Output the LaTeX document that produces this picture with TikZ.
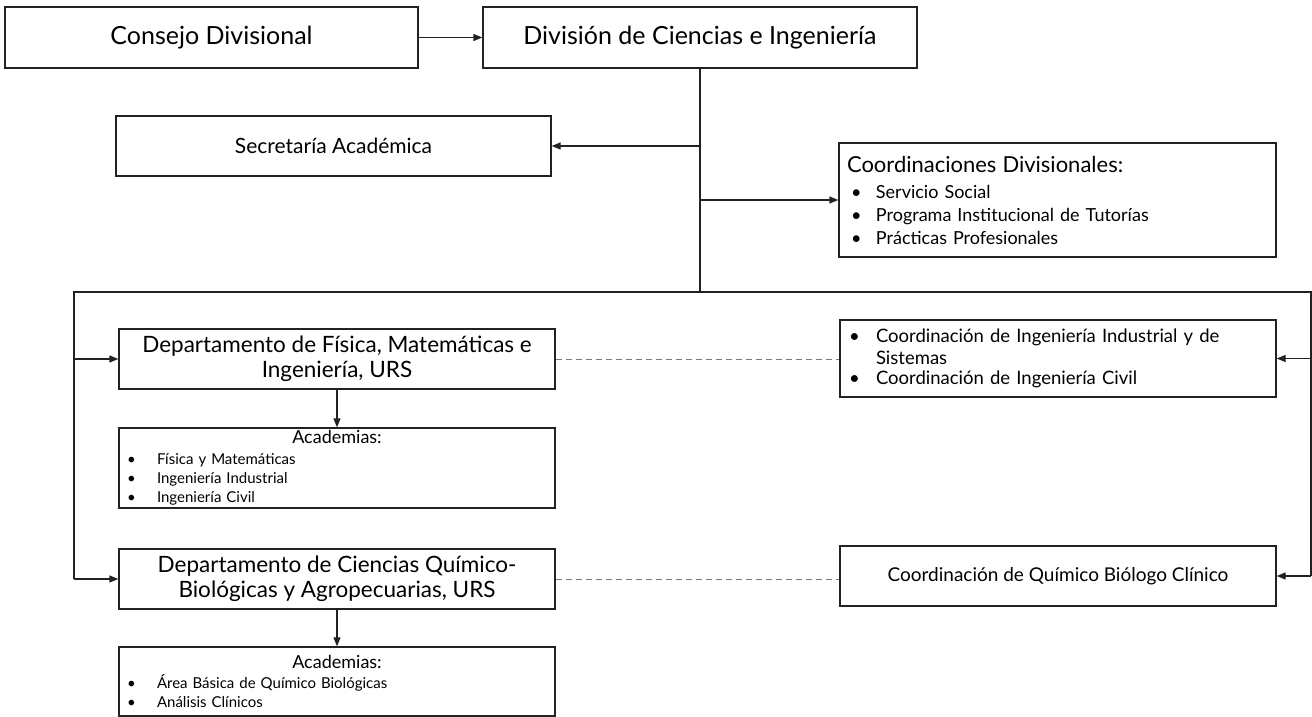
\documentclass[tikz,border=0pt]{standalone}
\usepackage{fontspec}
\setmainfont{Lato}
\usetikzlibrary{arrows.meta}

\definecolor{ink}{HTML}{222222}
\definecolor{tiegray}{HTML}{7A7A7A}

% bullet line: bullet at offset #1, text at offset #2 from the box edge
\newcommand\bli[3]{\hspace*{#1}\makebox[\dimexpr#2-#1\relax][l]{\textbullet}#3}
\newcommand\fs[2]{\fontsize{#1}{#2}\selectfont}

\begin{document}
\begin{tikzpicture}[x=1pt,y=-1pt,
  box/.style={draw=ink, line width=1.3pt, rectangle, inner sep=0pt,
    text=black, align=center},
  listbox/.style={box, align=left, text width=#1},
  link/.style={draw=ink, line width=1.3pt},
  arr/.style={link, -{Triangle[length=9pt,width=7pt]}},
  tie/.style={draw=tiegray, line width=1pt, dash pattern=on 6pt off 4pt}
]
\useasboundingbox (0,0) rectangle (1312,717);

% top row
\node[box, minimum width=413pt, minimum height=61pt, font=\fs{25}{30}]
  (consejo) at (211.5,37.5) {Consejo Divisional};
\node[box, minimum width=434pt, minimum height=61pt, font=\fs{25}{30}]
  (division) at (700,37.5) {División de Ciencias e Ingeniería};

% second level
\node[box, minimum width=435pt, minimum height=60pt, font=\fs{21}{25}]
  (secretaria) at (333.5,146) {Secretaría Académica};
\node[listbox=437pt, minimum width=437pt, minimum height=114pt, font=\fs{18}{23}]
  (coorddiv) at (1057.5,200)
  {\hspace*{8pt}{\fs{22}{23}Coordinaciones Divisionales:}\\[3pt]
   \bli{12pt}{37pt}{Servicio Social}\\
   \bli{12pt}{37pt}{Programa Institucional de Tutorías}\\
   \bli{12pt}{37pt}{Prácticas Profesionales}};

% departments and academies
\node[box, minimum width=436pt, minimum height=60pt, font=\fs{22.5}{25.5}]
  (depfis) at (337,359) {Departamento de Física, Matemáticas e\\Ingeniería, URS};
\node[listbox=436pt, minimum width=436pt, minimum height=80pt, font=\fs{15}{19}]
  (acad1) at (337,468)
  {\makebox[436pt]{\fs{18}{19}Academias:}\\[2pt]
   \bli{8pt}{38pt}{Física y Matemáticas}\\
   \bli{8pt}{38pt}{Ingeniería Industrial}\\
   \bli{8pt}{38pt}{Ingeniería Civil}};
\node[box, minimum width=436pt, minimum height=60pt, font=\fs{22.5}{25.5}]
  (depcq) at (337,579) {Departamento de Ciencias Químico-\\Biológicas y Agropecuarias, URS};
\node[listbox=436pt, minimum width=436pt, minimum height=69pt, font=\fs{15}{19}]
  (acad2) at (337,681.5)
  {\makebox[436pt]{\fs{18}{19}Academias:}\\[1pt]
   \bli{8pt}{38pt}{Área Básica de Químico Biológicas}\\
   \bli{8pt}{38pt}{Análisis Clínicos}};

% program coordinations
\node[listbox=436pt, minimum width=436pt, minimum height=77pt, font=\fs{18.5}{20.5}]
  (coording) at (1058,358.5)
  {\bli{9pt}{36pt}{Coordinación de Ingeniería Industrial y de}\\[1.5pt]
   \hspace*{36pt}Sistemas\\
   \bli{9pt}{36pt}{Coordinación de Ingeniería Civil}};
\node[box, minimum width=436pt, minimum height=60pt, font=\fs{19}{22}]
  (coordqbc) at (1058,576) {Coordinación de Químico Biólogo Clínico};

% trunk and branch points
\coordinate (trunk) at (700,292);
\coordinate (busl) at (74,292);
\coordinate (busr) at (1311,292);

% connectors
\draw[arr] (consejo.east) -- (division.west);
\draw[link] (division.south) -- (trunk);
\draw[arr] (division.south |- secretaria.east) -- (secretaria.east);
\draw[arr] (division.south |- coorddiv.west) -- (coorddiv.west);
\draw[link] (busl |- depcq.west) -- (busl) -- (busr) -- (busr |- coordqbc.east);
\draw[arr] (busl |- depfis.west) -- (depfis.west);
\draw[arr] (busl |- depcq.west) -- (depcq.west);
\draw[arr] (busr |- coording.east) -- (coording.east);
\draw[arr] (busr |- coordqbc.east) -- (coordqbc.east);
\draw[arr] (depfis.south) -- (acad1.north);
\draw[arr] (depcq.south) -- (acad2.north);
\draw[tie] (depfis.east) -- (depfis.east -| coording.west);
\draw[tie] (depcq.east) -- (depcq.east -| coordqbc.west);
\end{tikzpicture}
\end{document}
